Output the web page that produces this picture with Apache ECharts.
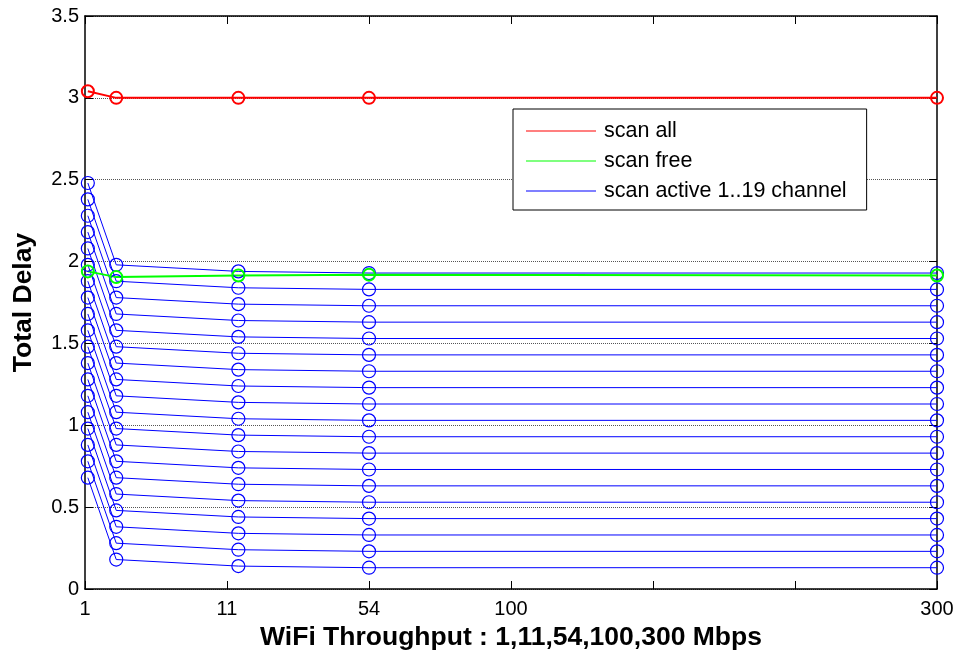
<!DOCTYPE html>
<html>
<head>
<meta charset="utf-8">
<script src="https://cdn.jsdelivr.net/npm/echarts@6/dist/echarts.min.js"></script>
<style>html,body{margin:0;padding:0;background:#fff}#c{width:960px;height:657px}</style>
</head>
<body>
<div id="c"></div>
<script>
// ---- data ----
const xValues = [1, 11, 54, 100, 300];
const xTickValues = [0, 50, 100, 150, 200, 250, 300];
const xTickLabels = ['1', '11', '54', '100', '', '', '300'];
const scanAll = [3.04, 3.0, 3.0, 3.0, 3.0];
const scanFree = [1.94, 1.905, 1.915, 1.92, 1.915];
// one row per active channel count (1..19), values at x = 1, 11, 54, 100, 300
const scanActive = [
  [0.68, 0.18, 0.14, 0.13, 0.13],
  [0.78, 0.28, 0.24, 0.23, 0.23],
  [0.88, 0.38, 0.34, 0.33, 0.33],
  [0.98, 0.48, 0.44, 0.43, 0.43],
  [1.08, 0.58, 0.54, 0.53, 0.53],
  [1.18, 0.68, 0.64, 0.63, 0.63],
  [1.28, 0.78, 0.74, 0.73, 0.73],
  [1.38, 0.88, 0.84, 0.83, 0.83],
  [1.48, 0.98, 0.94, 0.93, 0.93],
  [1.58, 1.08, 1.04, 1.03, 1.03],
  [1.68, 1.18, 1.14, 1.13, 1.13],
  [1.78, 1.28, 1.24, 1.23, 1.23],
  [1.88, 1.38, 1.34, 1.33, 1.33],
  [1.98, 1.48, 1.44, 1.43, 1.43],
  [2.08, 1.58, 1.54, 1.53, 1.53],
  [2.18, 1.68, 1.64, 1.63, 1.63],
  [2.28, 1.78, 1.74, 1.73, 1.73],
  [2.38, 1.88, 1.84, 1.83, 1.83],
  [2.48, 1.98, 1.94, 1.93, 1.93]
];
const seriesNames = ['scan all', 'scan free', 'scan active 1..19 channel'];
const seriesColors = ['#ff0000', '#00ff00', '#0000ff'];

// ---- chart ----
const FONT = '"Liberation Sans", Arial, sans-serif';
function pairs(ys) { return xValues.map((x, i) => [x, ys[i]]); }
function tickLabel(v) {
  const i = xTickValues.indexOf(v);
  return i >= 0 ? xTickLabels[i] : '';
}
function lineSeries(name, color, ys, width, symSize, symBorder) {
  return {
    type: 'line', name: name, data: pairs(ys),
    symbol: 'circle', symbolSize: symSize, showSymbol: true,
    lineStyle: { color: color, width: width },
    itemStyle: { color: 'rgba(0,0,0,0)', borderColor: color, borderWidth: symBorder },
    emphasis: { disabled: true }, silent: true
  };
}
const series = [];
scanActive.forEach(row => series.push(lineSeries(seriesNames[2], seriesColors[2], row, 1, 13, 1.2)));
series.push(lineSeries(seriesNames[0], seriesColors[0], scanAll, 2, 12, 2));
series.push(lineSeries(seriesNames[1], seriesColors[1], scanFree, 2, 12, 2));

const axisLineStyle = { onZero: false, lineStyle: { color: '#000', width: 1.5 } };
const tickStyle = { inside: true, length: 8, lineStyle: { color: '#000', width: 1 } };

const chart = echarts.init(document.getElementById('c'), null, { renderer: 'canvas' });
chart.setOption({
  animation: false,
  backgroundColor: '#fff',
  textStyle: { fontFamily: FONT },
  grid: { left: 85, right: 23, top: 16, bottom: 68, containLabel: false, outerBoundsMode: 'none' },
  legend: {
    orient: 'vertical', left: 513, top: 109,
    data: seriesNames.map((n, i) => ({ name: n, itemStyle: { color: seriesColors[i], borderWidth: 0 } })),
    icon: 'rect', itemWidth: 70, itemHeight: 1, itemGap: 8,
    padding: [11, 20, 8, 13],
    borderColor: '#000', borderWidth: 1, backgroundColor: '#fff', borderRadius: 0,
    selectedMode: false,
    textStyle: { fontSize: 21.5, color: '#000', fontFamily: FONT, padding: [0, 0, 0, 3] }
  },
  xAxis: [
    {
      type: 'value', min: 0, max: 300, interval: 50, position: 'bottom',
      axisLine: axisLineStyle, axisTick: tickStyle,
      axisLabel: { formatter: tickLabel, fontSize: 20, color: '#000', margin: 10, fontFamily: FONT },
      splitLine: { show: false },
      name: 'WiFi Throughput : 1,11,54,100,300 Mbps', nameLocation: 'middle', nameGap: 34,
      nameTextStyle: { fontSize: 26.5, fontWeight: 'bold', color: '#000', fontFamily: FONT }
    },
    {
      type: 'value', min: 0, max: 300, interval: 50, position: 'top',
      axisLine: axisLineStyle, axisTick: tickStyle,
      axisLabel: { show: false }, splitLine: { show: false }
    }
  ],
  yAxis: [
    {
      type: 'value', min: 0, max: 3.5, interval: 0.5, position: 'left',
      axisLine: axisLineStyle, axisTick: tickStyle,
      axisLabel: { fontSize: 20, color: '#000', margin: 6, fontFamily: FONT },
      splitLine: { show: true, lineStyle: { type: 'dotted', color: '#555', width: 1 } },
      name: 'Total Delay', nameLocation: 'middle', nameGap: 48,
      nameTextStyle: { fontSize: 26.5, fontWeight: 'bold', color: '#000', fontFamily: FONT }
    },
    {
      type: 'value', min: 0, max: 3.5, interval: 0.5, position: 'right',
      axisLine: axisLineStyle, axisTick: tickStyle,
      axisLabel: { show: false }, splitLine: { show: false }
    }
  ],
  series: series
});
</script>
</body>
</html>
